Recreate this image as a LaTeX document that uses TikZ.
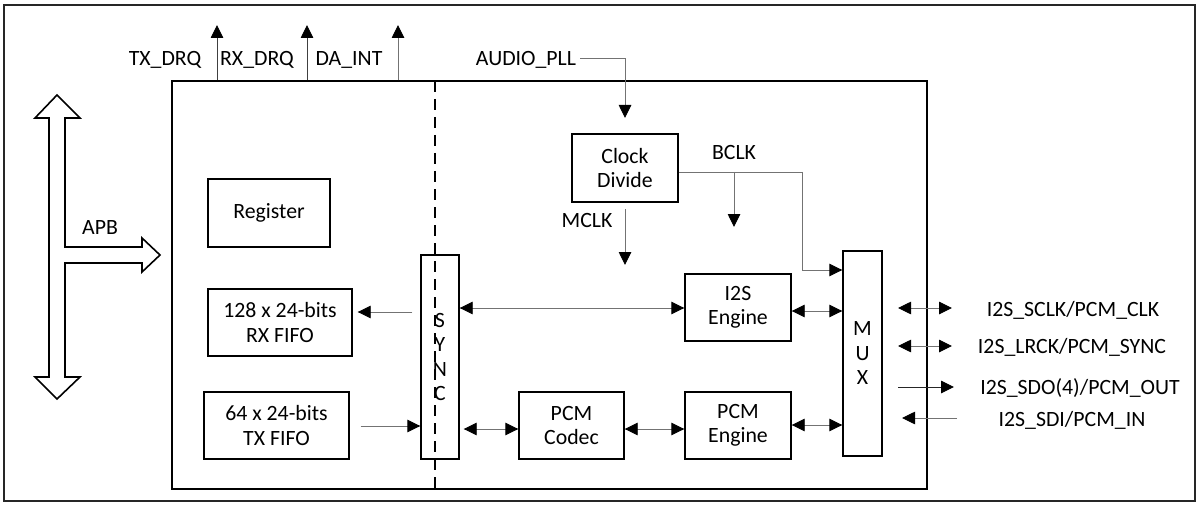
\documentclass[tikz,border=0pt]{standalone}
\usepackage{fontspec}
\setmainfont{Carlito}
\usetikzlibrary{arrows.meta}
\begin{document}
\begin{tikzpicture}[x=1pt,y=-1pt,
  every node/.style={font=\fontsize{21.8}{24.5}\selectfont, inner sep=0pt},
  blk/.style={draw=black, line width=1.4pt, align=center, fill=white},
  conn/.style={draw=black!55, line width=0.9pt},
  ar/.style={conn, -{Triangle[length=13pt,width=12.5pt,color=black]}},
  dar/.style={conn, {Triangle[length=13pt,width=12.5pt,color=black]}-{Triangle[length=13pt,width=12.5pt,color=black]}},
  lbl/.style={text=black}
]
\useasboundingbox (0,0) rectangle (1198,505);
\draw[line width=1.8pt, draw=black!85] (4,5) rectangle (1195,501);

% chip
\node[draw=black, line width=1.4pt, minimum width=755pt, minimum height=408pt] (chip) at (549.5,285) {};
\draw[line width=1.4pt, dash pattern=on 11pt off 7pt] (435,81) -- (435,489);

% APB hollow arrow
\draw[line width=1.6pt, fill=white] (57,95) -- (80,118) -- (65,118) -- (65,247) -- (142,247) -- (142,238)
  -- (160,255) -- (142,272) -- (142,263) -- (65,263) -- (65,377) -- (80,377) -- (57,399) -- (35,377)
  -- (49,377) -- (49,118) -- (35,118) -- cycle;
\node[lbl] (apb) at (100,228) {APB};

% blocks
\node[blk, minimum width=122pt, minimum height=68pt] (reg) at (269,213) {Register};
\node[blk, minimum width=144pt, minimum height=67pt] (rx) at (280,322.5) {128 x 24-bits\\RX FIFO};
\node[blk, minimum width=145pt, minimum height=67pt] (tx) at (276.5,425.5) {64 x 24-bits\\TX FIFO};
\node[draw=black, line width=1.4pt, align=center, minimum width=38pt, minimum height=204pt] (sync) at (440,357) {S\\Y\\N\\C};
\node[blk, minimum width=106pt, minimum height=68pt] (clk) at (625,168) {Clock\\Divide};
\node[blk, minimum width=106pt, minimum height=67pt] (i2s) at (738,307.5) {I2S\\Engine};
\node[blk, minimum width=105pt, minimum height=67pt] (codec) at (571.5,425.5) {PCM\\Codec};
\node[blk, minimum width=106pt, minimum height=67pt] (pcm) at (738,425.5) {PCM\\Engine};
\node[blk, minimum width=39pt, minimum height=205pt] (mux) at (862.5,353.5) {M\\U\\X};

% top signals
\coordinate (txq) at (217,25);
\coordinate (rxq) at (307,25);
\coordinate (daq) at (398,25);
\draw[ar, draw=black!75] (chip.north -| txq) -- (txq);
\draw[ar, draw=black!75] (chip.north -| rxq) -- (rxq);
\draw[ar] (chip.north -| daq) -- (daq);
\node[lbl] (tl) at (165,60) {TX\_DRQ};
\node[lbl] (rl) at (257,60) {RX\_DRQ};
\node[lbl] (dl) at (349,60) {DA\_INT};
\node[lbl] (pll) at (526,60) {AUDIO\_PLL};

% clock paths
\coordinate (pllc) at (625,58);
\coordinate (plltip) at (625,118);
\draw[ar] (580,58) -- (pllc) -- (plltip);
\node[lbl] (bclk) at (734,153) {BCLK};
\node[lbl] (mclk) at (587,221) {MCLK};
\coordinate (bc1) at (802,172);
\coordinate (bbr) at (734,172);
\coordinate (btip) at (734,227);
\draw[conn] (clk.east |- bc1) -- (bc1);
\draw[ar] (bc1) -- (802,270) -- (mux.west |- 0,270);
\draw[ar] (bbr) -- (btip);
\coordinate (mtop) at (625,209);
\coordinate (mtip) at (625,265);
\draw[ar] (mtop) -- (mtip);

% data paths
\draw[ar] ([xshift=-8pt]sync.west |- 0,312) -- ([xshift=5pt]rx.east |- 0,312);
\draw[ar] ([xshift=11pt]tx.east |- 0,426) -- (sync.west |- 0,426);
\draw[dar] (sync.east |- 0,308) -- (i2s.west |- 0,308);
\draw[dar] ([xshift=4pt]sync.east |- 0,429) -- (codec.west |- 0,429);
\draw[dar] (codec.east |- 0,429) -- (pcm.west |- 0,429);
\draw[dar] (i2s.east |- 0,311) -- (mux.west |- 0,311);
\draw[dar] (pcm.east |- 0,425) -- (mux.west |- 0,425);

% external pins
\coordinate (p1a) at (898,308); \coordinate (p1b) at (952,308);
\coordinate (p2a) at (898,346); \coordinate (p2b) at (952,346);
\coordinate (p3a) at (898,387); \coordinate (p3b) at (954,387);
\coordinate (p4a) at (957,418); \coordinate (p4b) at (902,418);
\draw[dar] (p1a) -- (p1b);
\draw[dar] (p2a) -- (p2b);
\draw[ar, draw=black!85] (p3a) -- (p3b);
\draw[ar] (p4a) -- (p4b);
\node[lbl] (s1) at (1073,310) {I2S\_SCLK/PCM\_CLK};
\node[lbl] (s2) at (1072,347) {I2S\_LRCK/PCM\_SYNC};
\node[lbl] (s3) at (1080,388) {I2S\_SDO(4)/PCM\_OUT};
\node[lbl] (s4) at (1072,420) {I2S\_SDI/PCM\_IN};
\end{tikzpicture}
\end{document}
